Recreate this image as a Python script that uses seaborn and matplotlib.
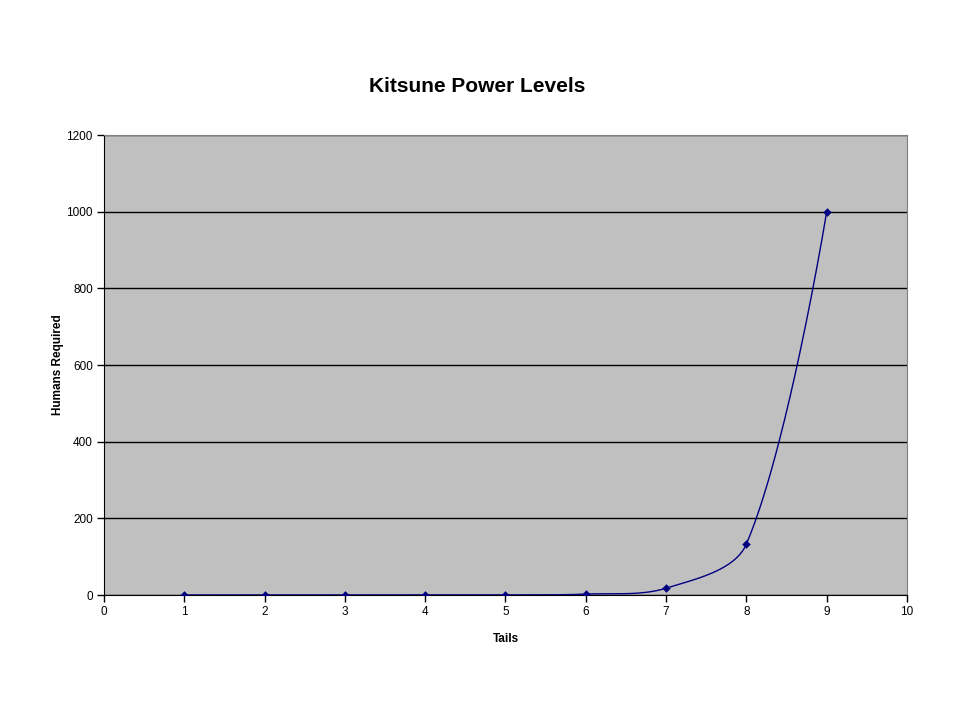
import numpy as np
import pandas as pd
import seaborn as sns
import matplotlib
matplotlib.use("Agg")
import matplotlib.pyplot as plt

# data
tails = [1, 2, 3, 4, 5, 6, 7, 8, 9]
humans = [0.0, 0.0, 0.0, 0.04, 0.3, 2.4, 17.8, 133, 1000]

df = pd.DataFrame({"Tails": tails, "Humans Required": humans})

sns.set_style("white")
plt.rcParams["font.family"] = ["Liberation Sans", "DejaVu Sans"]
plt.rcParams["text.color"] = "black"
plt.rcParams["axes.labelcolor"] = "black"
plt.rcParams["xtick.color"] = "black"
plt.rcParams["ytick.color"] = "black"

fig = plt.figure(figsize=(9.6, 7.2), dpi=100)
ax = fig.add_axes([0.1083, 0.1736, 0.8365, 0.6389])
ax.set_facecolor("#c0c0c0")
ax.set_xlim(0, 10)
ax.set_ylim(0, 1200)

# Excel-like smoothed line, bezier built in screen space
pts = ax.transData.transform(np.column_stack([tails, humans]).astype(float))
n = len(pts)
curve = []
t = np.linspace(0, 1, 60)[:, None]
for i in range(n - 1):
    p0, p1 = pts[max(i - 1, 0)], pts[i]
    p2, p3 = pts[i + 1], pts[min(i + 2, n - 1)]
    d01 = np.hypot(*(p1 - p0))
    d12 = np.hypot(*(p2 - p1))
    d23 = np.hypot(*(p3 - p2))
    f1 = d12 / (d01 + d12) / 3 if d01 > 0 else 0
    f2 = d12 / (d12 + d23) / 3 if d23 > 0 else 0
    c1 = p1 + (p2 - p0) * f1
    c2 = p2 - (p3 - p1) * f2
    seg = (1 - t) ** 3 * p1 + 3 * (1 - t) ** 2 * t * c1 + 3 * (1 - t) * t ** 2 * c2 + t ** 3 * p2
    curve.append(seg)
curve = ax.transData.inverted().transform(np.vstack(curve))
ax.plot(curve[:, 0], curve[:, 1], color="#000080", lw=1.0, zorder=3)

sns.scatterplot(data=df, x="Tails", y="Humans Required", marker="D", s=16,
                color="#000080", edgecolor="#000080", ax=ax, zorder=4, legend=False)

ax.set_xlim(0, 10)
ax.set_ylim(0, 1200)
ax.set_xticks(range(0, 11))
ax.set_yticks(range(0, 1201, 200))
ax.yaxis.grid(True, color="black", lw=1)
ax.set_axisbelow(True)
for s in ["top", "right"]:
    ax.spines[s].set_color("#808080")
for s in ["left", "bottom"]:
    ax.spines[s].set_color("black")
ax.tick_params(axis="both", direction="out", length=5, width=1, color="black",
               labelsize=8.5, pad=3, left=True, bottom=True)

ax.set_xlabel("Tails", fontsize=8.5, fontweight="bold", labelpad=11)
ax.set_ylabel("Humans Required", fontsize=8.5, fontweight="bold", labelpad=2)
fig.text(0.497, 0.880, "Kitsune Power Levels", fontsize=15, fontweight="bold",
         ha="center", va="center")

fig.savefig("out.png", dpi=100, facecolor="white")
